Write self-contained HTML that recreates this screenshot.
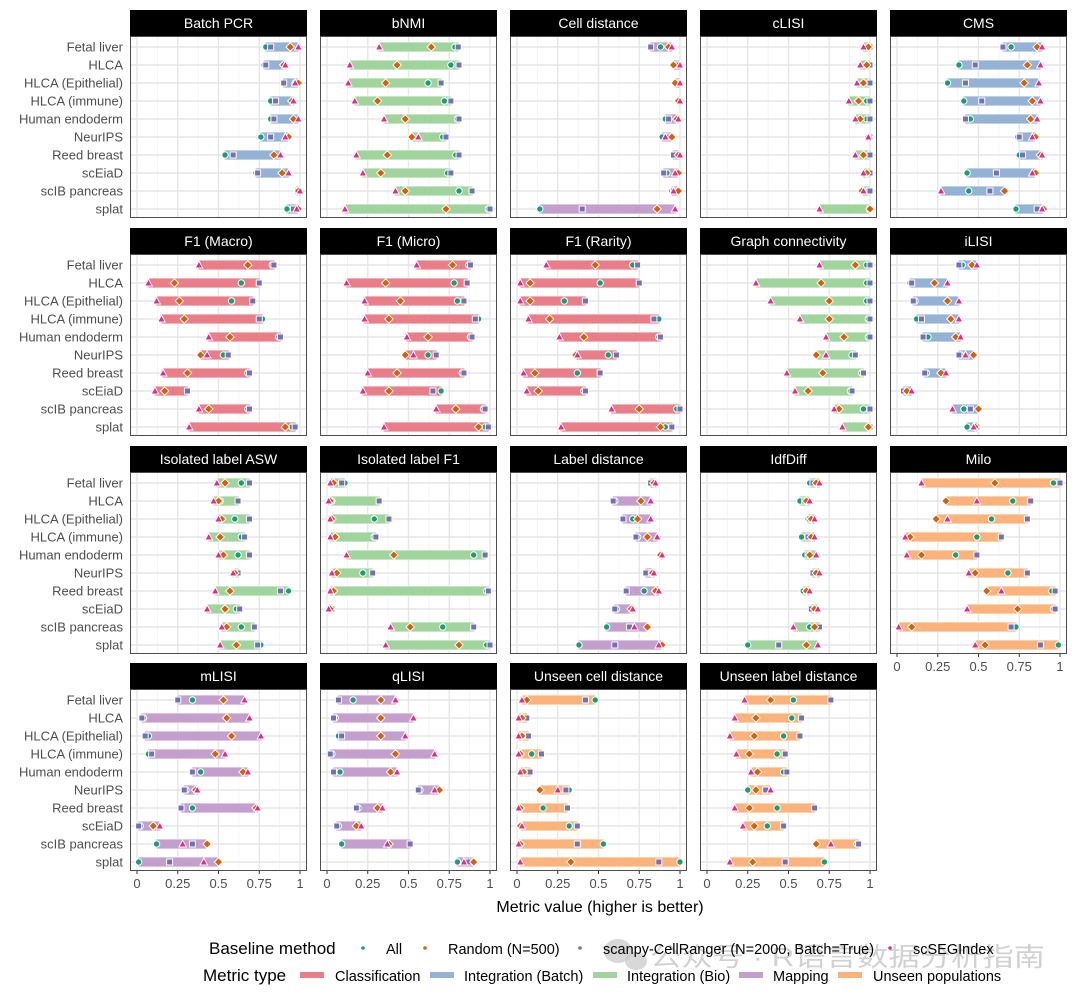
<!DOCTYPE html>
<html><head><meta charset="utf-8"><style>
body{margin:0;background:#fff;}
svg text{font-family:"Liberation Sans","Noto Sans CJK SC",sans-serif;}
</style></head><body>
<svg id="chart" width="1080" height="998" viewBox="0 0 1080 998" xmlns="http://www.w3.org/2000/svg"></svg>
<script>
const datasets=["Fetal liver","HLCA","HLCA (Epithelial)","HLCA (immune)","Human endoderm","NeurIPS","Reed breast","scEiaD","scIB pancreas","splat"];
const metrics=["Batch PCR","bNMI","Cell distance","cLISI","CMS","F1 (Macro)","F1 (Micro)","F1 (Rarity)","Graph connectivity","iLISI","Isolated label ASW","Isolated label F1","Label distance","IdfDiff","Milo","mLISI","qLISI","Unseen cell distance","Unseen label distance"];
const metricTypes=["batch","bio","map","bio","batch","class","class","class","bio","batch","bio","bio","map","bio","unseen","map","map","unseen","unseen"];
const allVals=[
[.79,.78,.97,.82,.82,.76,.54,.73,.98,.92],
[.785,.76,.62,.72,.80,.71,.79,.74,.81,.99],
[.88,.98,.98,.99,.91,.89,.97,.92,.95,.14],
[1.0,.99,.99,.98,.98,1.0,.99,.99,.99,1.0],
[.70,.38,.31,.41,.45,.74,.75,.43,.44,.73],
[.83,.64,.58,.77,.87,.53,.68,.31,.68,.95],
[.87,.78,.80,.93,.88,.62,.83,.70,.96,.97],
[.71,.51,.29,.87,.87,.56,.37,.41,.98,.91],
[.98,.98,.98,.99,.99,.89,.95,.88,.96,.99],
[.40,.08,.11,.12,.19,.39,.18,.05,.41,.43],
[.64,.51,.60,.64,.62,.60,.93,.61,.64,.76],
[.11,.03,.29,.29,.90,.22,.98,.03,.71,.98],
[.83,.60,.71,.74,.88,.82,.78,.61,.55,.38],
[.63,.57,.62,.58,.60,.66,.59,.65,.63,.25],
[.96,.71,.58,.49,.36,.68,.95,.96,.73,.99],
[.34,.04,.07,.07,.39,.30,.34,.02,.12,.01],
[.16,.05,.07,.03,.08,.57,.19,.07,.09,.80],
[.48,.04,.04,.09,.06,.32,.16,.32,.53,1.0],
[.53,.52,.47,.43,.47,.25,.43,.37,.92,.72]];
const randomVals=[
[.94,.90,.99,.95,.96,.93,.84,.89,.99,.99],
[.64,.43,.36,.31,.48,.52,.37,.33,.48,.73],
[.93,.96,.97,.99,.98,.95,.99,.99,.99,.86],
[.99,.98,.96,.93,.94,.99,.96,.98,.95,1.0],
[.86,.80,.78,.83,.82,.85,.88,.85,.66,.90],
[.68,.23,.26,.29,.57,.39,.31,.17,.44,.91],
[.77,.36,.45,.38,.62,.48,.43,.38,.79,.93],
[.48,.08,.08,.20,.41,.36,.11,.13,.75,.88],
[.91,.70,.75,.75,.84,.67,.71,.62,.81,.99],
[.46,.23,.31,.33,.36,.47,.27,.06,.50,.48],
[.54,.50,.52,.51,.53,.60,.57,.54,.55,.61],
[.04,.02,.03,.05,.41,.06,.04,.02,.51,.81],
[.84,.76,.74,.80,.88,.83,.85,.70,.80,.89],
[.67,.61,.64,.64,.63,.67,.61,.66,.66,.61],
[.60,.30,.24,.08,.15,.48,.55,.74,.09,.54],
[.53,.55,.58,.48,.65,.36,.73,.10,.43,.50],
[.33,.33,.33,.42,.39,.69,.31,.18,.38,.90],
[.06,.03,.03,.02,.04,.14,.02,.02,.02,.33],
[.39,.30,.29,.26,.31,.30,.26,.29,.67,.28]];
const scanpyVals=[
[.82,.79,.90,.85,.84,.82,.59,.74,.985,.96],
[.805,.81,.70,.76,.81,.73,.81,.76,.89,1.0],
[.82,.98,.98,.99,.93,.92,.96,.90,.96,.40],
[1,1,1,1,1,1,1,1,1,1],
[.65,.48,.42,.52,.42,.75,.77,.61,.57,.86],
[.84,.75,.71,.75,.88,.56,.69,.31,.69,.97],
[.88,.86,.84,.91,.89,.67,.84,.65,.97,.99],
[.74,.75,.42,.84,.88,.61,.51,.42,1.0,.95],
[1,1,1,1,1,.91,.96,.89,1,1],
[.38,.09,.10,.15,.16,.38,.17,.04,.45,.49],
[.69,.62,.69,.66,.69,.62,.88,.63,.72,.74],
[.09,.32,.38,.30,.97,.28,.99,.03,.90,1.0],
[.82,.59,.65,.73,.88,.79,.67,.60,.69,.60],
[.65,.60,.63,.62,.62,.65,.61,.64,.69,.44],
[1.0,.82,.80,.64,.49,.80,.97,.97,.70,.88],
[.25,.03,.05,.09,.34,.29,.27,.01,.34,.20],
[.07,.04,.09,.02,.04,.56,.18,.06,.51,.87],
[.42,.06,.07,.15,.08,.30,.31,.37,.37,.87],
[.76,.58,.57,.48,.49,.36,.66,.47,.93,.48]];
const segVals=[
[.99,.91,.97,.96,.99,.91,.88,.93,1.0,.98],
[.32,.14,.13,.17,.35,.56,.18,.22,.42,.11],
[.95,1.0,1.0,1.0,.99,.91,1.0,.97,.96,.97],
[.96,.94,.92,.87,.91,.99,.91,.96,.96,.69],
[.89,.88,.87,.88,.86,.83,.89,.83,.27,.89],
[.38,.07,.12,.15,.44,.43,.16,.11,.38,.32],
[.55,.12,.23,.23,.49,.53,.25,.22,.67,.35],
[.18,.02,.02,.07,.26,.37,.04,.06,.58,.27],
[.69,.30,.39,.57,.73,.73,.49,.54,.78,.83],
[.49,.31,.38,.38,.39,.42,.30,.09,.34,.47],
[.49,.47,.50,.44,.50,.59,.48,.43,.52,.51],
[.02,.01,.02,.02,.12,.03,.02,.01,.39,.36],
[.85,.82,.82,.86,.89,.84,.87,.71,.72,.87],
[.69,.63,.66,.66,.67,.69,.63,.68,.53,.68],
[.15,.49,.31,.05,.06,.44,.64,.43,.01,.48],
[.66,.69,.76,.54,.68,.37,.74,.14,.28,.41],
[.42,.53,.48,.66,.43,.66,.34,.21,.37,.84],
[.03,.01,.01,.01,.02,.25,.01,.03,.01,.02],
[.23,.17,.14,.18,.27,.39,.17,.22,.76,.14]];
const xTicks=[0,0.25,0.5,0.75,1];
const xTickLabels=["0","0.25","0.5","0.75","1"];

const typeColor={class:"#ea7e88",batch:"#93b2d5",bio:"#a0d49c",map:"#c49ecc",unseen:"#fcb27b"};
const C={all:"#1b9e77",rand:"#d95f02",scan:"#7570b3",seg:"#e7298a"};
const svg=document.getElementById('chart');
const NS="http://www.w3.org/2000/svg";
function mk(tag,attrs,parent){const e=document.createElementNS(NS,tag);for(const k in attrs)e.setAttribute(k,attrs[k]);(parent||svg).appendChild(e);return e;}
const colX=[130,320,510,700,890], rowY=[10,228,446,663], PW=177, SH=26, PH=182;
function xs(px,v){return px+7+v*163;}
function ys(py,i){return py+11+i*18;}

// watermark (behind legend)
const wmg=mk('g',{});


mk('ellipse',{cx:618,cy:951,rx:14,ry:12,fill:'#c8c8c8','fill-opacity':0.7},wmg);
mk('ellipse',{cx:636,cy:961,rx:11,ry:9,fill:'#c8c8c8','fill-opacity':0.7},wmg);
const wm=mk('text',{x:650,y:966,'font-size':26,fill:'#9a9a9a','fill-opacity':0.45,textLength:395,lengthAdjust:'spacingAndGlyphs'},wmg);wm.textContent='公众号 · R语言数据分析指南';

metrics.forEach((m,mi)=>{
  const col=mi%5,row=Math.floor(mi/5);
  const px=colX[col], sy=rowY[row], py=sy+SH;
  const g=mk('g',{});
  
  
  const strip=mk('rect',{x:px,y:sy,width:PW,height:SH,fill:'#000'},g);
  
  
  const st=mk('text',{x:px+PW/2,y:sy+18,'text-anchor':'middle','font-size':14,fill:'#fff'},g);st.textContent=m;
  
  
  mk('rect',{x:px,y:py,width:PW,height:PH,fill:'#fff'},g);
  for(let t=0.125;t<1;t+=0.25) mk('line',{x1:xs(px,t),x2:xs(px,t),y1:py,y2:py+PH,stroke:'#f0f0f0','stroke-width':0.7},g);
  xTicks.forEach(t=>mk('line',{x1:xs(px,t),x2:xs(px,t),y1:py,y2:py+PH,stroke:'#e6e6e6','stroke-width':1.4},g));
  datasets.forEach((d,i)=>mk('line',{x1:px,x2:px+PW,y1:ys(py,i),y2:ys(py,i),stroke:'#e6e6e6','stroke-width':1.4},g));
  datasets.forEach((d,i)=>{
    const a=allVals[mi][i],r=randomVals[mi][i],s=scanpyVals[mi][i],q=segVals[mi][i];
    const lo=Math.min(a,r,s,q),hi=Math.max(a,r,s,q),y=ys(py,i);
    const bar=mk('rect',{x:xs(px,lo)-2,y:y-5,width:xs(px,hi)-xs(px,lo)+4,height:10,rx:3,fill:typeColor[metricTypes[mi]],stroke:'#fff','stroke-width':1,'stroke-opacity':0.8},g);
    
    
    const xa=xs(px,a),xr=xs(px,r),xsn=xs(px,s),xq=xs(px,q);
    const p1=mk('circle',{cx:xa,cy:y,r:3.2,fill:C.all,stroke:'#fff','stroke-width':1},g);
    
    
    const p2=mk('rect',{x:xsn-3,y:y-3,width:6,height:6,fill:C.scan,stroke:'#fff','stroke-width':1},g);
    
    
    const p3=mk('polygon',{points:`${xr},${y-4.2} ${xr+4.2},${y} ${xr},${y+4.2} ${xr-4.2},${y}`,fill:C.rand,stroke:'#fff','stroke-width':1},g);
    
    
    const p4=mk('polygon',{points:`${xq},${y-4} ${xq+3.8},${y+3} ${xq-3.8},${y+3}`,fill:C.seg,stroke:'#fff','stroke-width':1},g);
    
    
  });
  mk('rect',{x:px+0.5,y:py+0.5,width:PW-1,height:PH-1,fill:'none',stroke:'#4d4d4d','stroke-width':1},g);
  if(col===0){
    datasets.forEach((d,i)=>{const t=mk('text',{x:123,y:ys(py,i)+4.5,'text-anchor':'end','font-size':13,fill:'#4d4d4d'},g);t.textContent=d;
      
      });
  }
  if(row===3||(row===2&&col===4)){
    xTicks.forEach((t,ti)=>{
      mk('line',{x1:xs(px,t),x2:xs(px,t),y1:py+PH,y2:py+PH+3,stroke:'#333','stroke-width':1},g);
      const tx=mk('text',{x:xs(px,t),y:py+PH+17,'text-anchor':'middle','font-size':13,fill:'#4d4d4d'},g);tx.textContent=xTickLabels[ti];
      
      
    });
  }
});
const xt=mk('text',{x:600,y:912,'text-anchor':'middle','font-size':16,fill:'#000'});xt.textContent='Metric value (higher is better)';


// legend
const lg=mk('g',{});


const lt1=mk('text',{x:209,y:954,'font-size':17,fill:'#000'},lg);lt1.textContent='Baseline method';
const items=[[363,386,'All','all'],[425,448,'Random (N=500)','rand'],[580,603,'scanpy-CellRanger (N=2000, Batch=True)','scan'],[890,913,'scSEGIndex','seg']];
items.forEach(([dx,tx,lab,k])=>{
  mk('circle',{cx:dx,cy:948,r:1.8,fill:C[k]},lg);
  const t=mk('text',{x:tx,y:954,'font-size':14.5,fill:'#000'},lg);t.textContent=lab;
  
  
});
const lt2=mk('text',{x:203,y:981,'font-size':17,fill:'#000'},lg);lt2.textContent='Metric type';
const sw=[[300,335,'Classification','class'],[430,464,'Integration (Batch)','batch'],[593,627,'Integration (Bio)','bio'],[739,773,'Mapping','map'],[838,873,'Unseen populations','unseen']];
sw.forEach(([sx,tx,lab,k])=>{
  mk('rect',{x:sx,y:972,width:24,height:6,fill:typeColor[k]},lg);
  const t=mk('text',{x:tx,y:981,'font-size':14.5,fill:'#000'},lg);t.textContent=lab;
  
  
});
</script>
</body></html>
